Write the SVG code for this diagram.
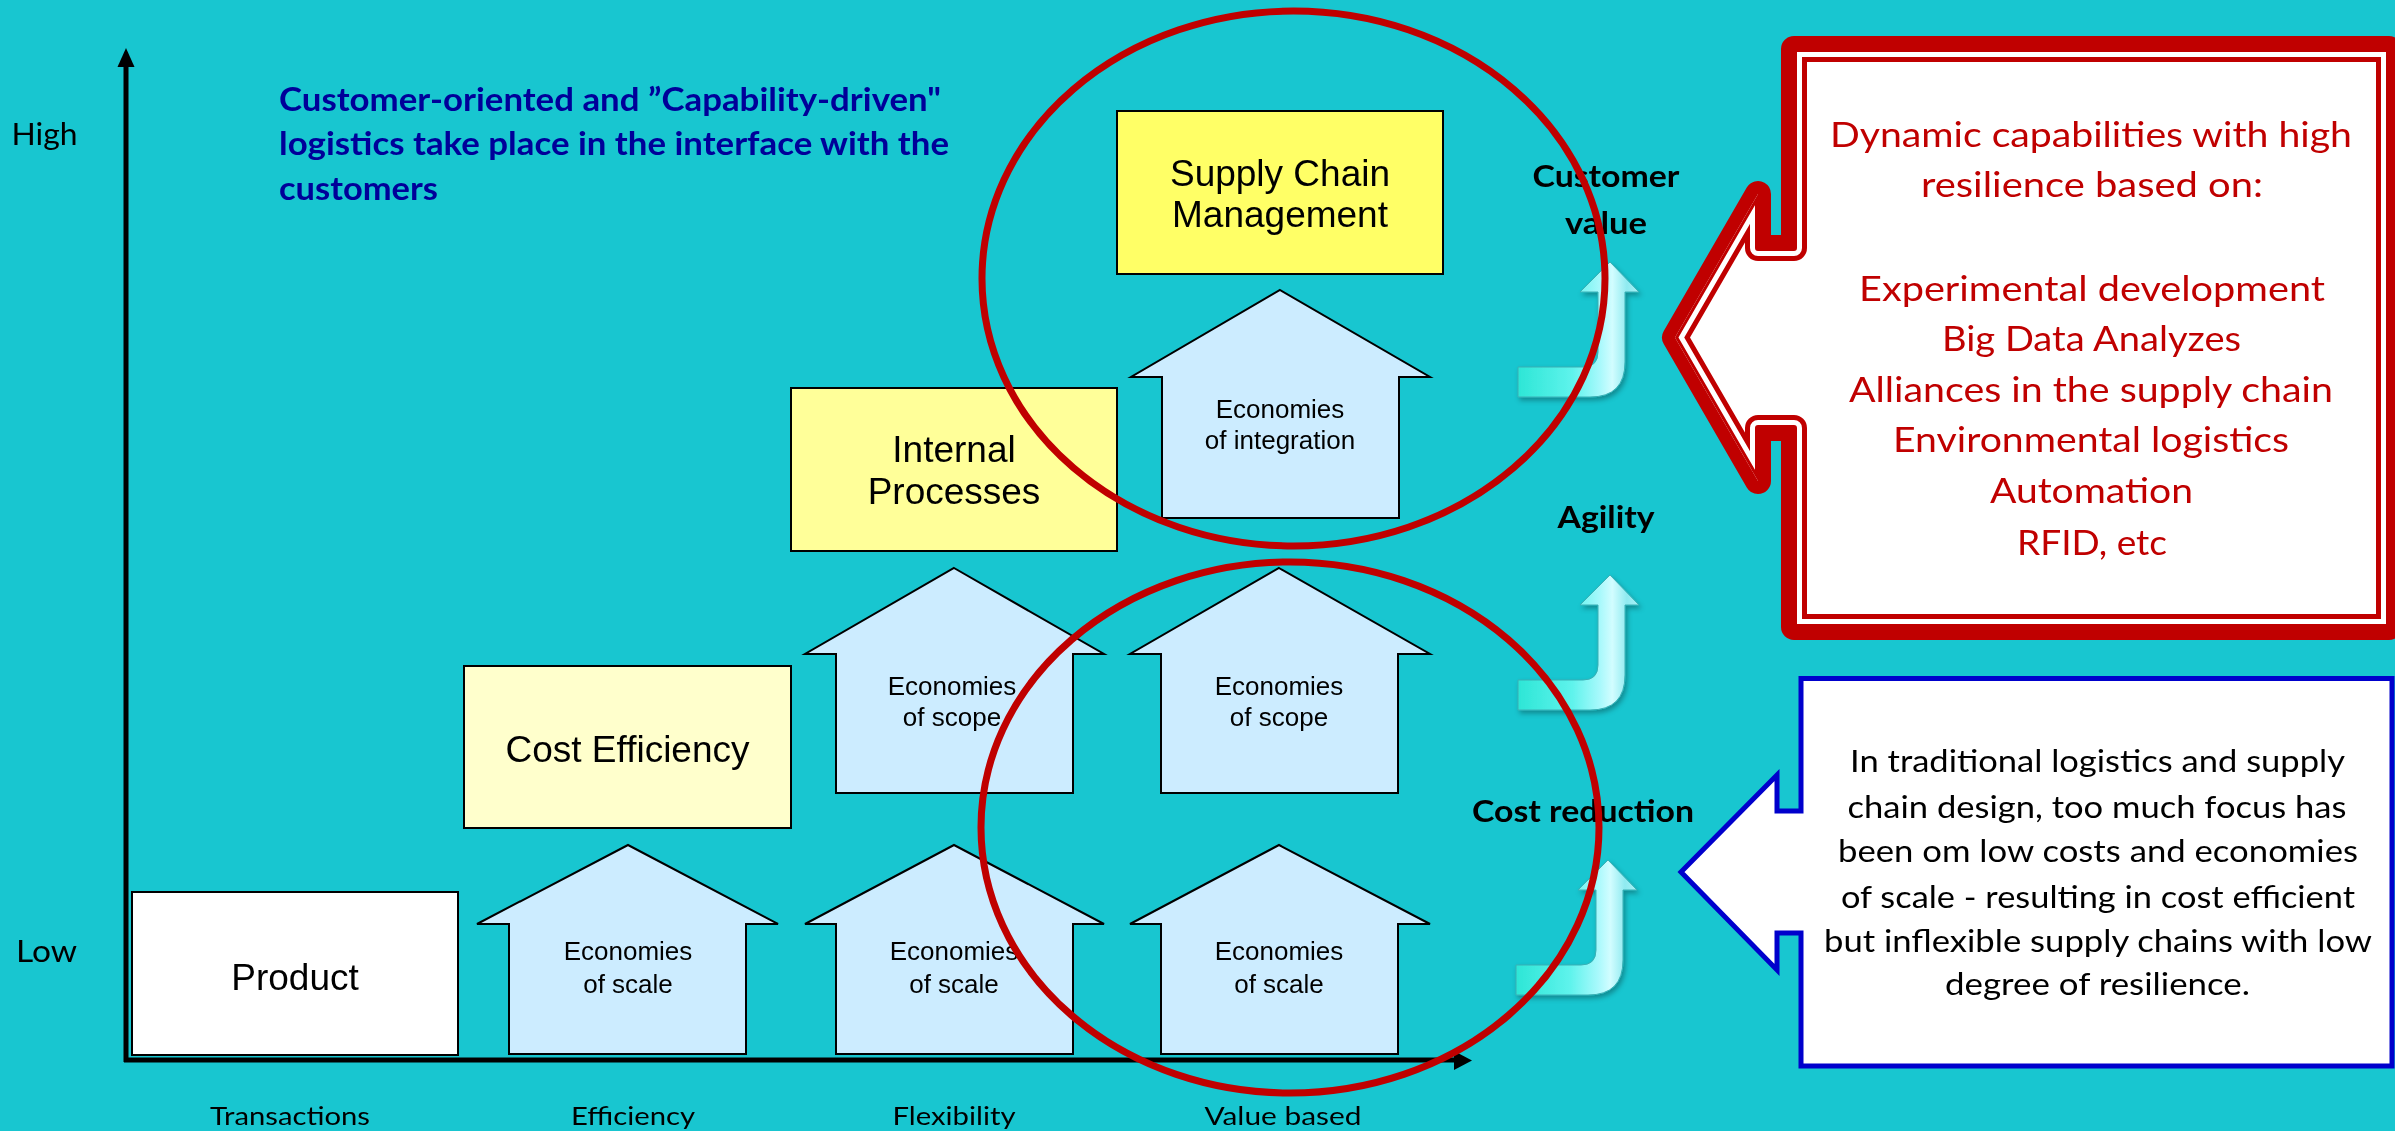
<svg xmlns="http://www.w3.org/2000/svg" xmlns:xlink="http://www.w3.org/1999/xlink" width="2395" height="1131" viewBox="0 0 2395 1131">
  <style>
    .cal { font-family: Lato, "Open Sans", sans-serif; }
    .ari { font-family: "Liberation Sans", Arial, sans-serif; fill: #000; }
    .box { stroke: #000; stroke-width: 2; }
    .econ { fill: #CCECFF; stroke: #000; stroke-width: 2; stroke-linejoin: miter; }
    .ring { fill: none; stroke: #C00000; stroke-width: 7; }
    .axis { stroke: #000; stroke-width: 5; fill: none; }
    .mid { text-anchor: middle; }
  </style>
  <defs>
    <linearGradient id="bendFill" x1="0" y1="0" x2="1" y2="0">
      <stop offset="0" stop-color="#2DE6D6"/>
      <stop offset="0.45" stop-color="#5FF3EC"/>
      <stop offset="0.68" stop-color="#A9F9FC"/>
      <stop offset="0.78" stop-color="#D2FDFF"/>
      <stop offset="0.9" stop-color="#8FEAF0"/>
      <stop offset="1" stop-color="#A6F2F6"/>
    </linearGradient>
    <filter id="soft" x="-20%" y="-20%" width="150%" height="150%">
      <feDropShadow dx="2" dy="3" stdDeviation="2.5" flood-color="#000" flood-opacity="0.3"/>
    </filter>
    <!-- bent up-arrow used for the three outcome markers -->
    <path id="bend" d="M1518,367 H1583 Q1598,367 1598,352 V292 H1580 L1610,262 L1639,292 H1625 V362 Q1625,397 1590,397 H1518 Z"/>
    <!-- left-pointing callout outline -->
    <path id="redShape" d="M1794,49 H2389 V627 H1794 V428 H1758 V481 L1675,337.5 L1758,194 V248 H1794 Z"/>
    <clipPath id="redInside"><use xlink:href="#redShape"/></clipPath>
  </defs>

  <rect x="0" y="0" width="2395" height="1131" fill="#18C6D0"/>

  <!-- axes and outcome arrows -->
  <g id="connectors">
    <line class="axis" x1="126" y1="64" x2="126" y2="1062"/>
    <polygon points="117.5,67 126,48 134.5,67" fill="#000"/>
    <line class="axis" x1="124" y1="1060" x2="1456" y2="1060"/>
    <polygon points="1454,1051 1472,1060.5 1454,1070" fill="#000"/>
    <g fill="url(#bendFill)" stroke="#3AAFB4" stroke-width="1" filter="url(#soft)">
      <use xlink:href="#bend"/>
      <use xlink:href="#bend" transform="translate(0,313)"/>
      <use xlink:href="#bend" transform="translate(-2,598)"/>
    </g>
  </g>

  <!-- axis labels -->
  <g id="axis-labels" class="cal" fill="#000">
    <text x="11.5" y="145" font-size="30" textLength="66" lengthAdjust="spacingAndGlyphs">High</text>
    <text x="16" y="962" font-size="30" textLength="61" lengthAdjust="spacingAndGlyphs">Low</text>
    <text class="mid" x="290" y="1125" font-size="25" textLength="160" lengthAdjust="spacingAndGlyphs">Transactions</text>
    <text class="mid" x="633" y="1125" font-size="25" textLength="124" lengthAdjust="spacingAndGlyphs">Efficiency</text>
    <text class="mid" x="954" y="1125" font-size="25" textLength="123" lengthAdjust="spacingAndGlyphs">Flexibility</text>
    <text class="mid" x="1283" y="1125" font-size="25" textLength="157" lengthAdjust="spacingAndGlyphs">Value based</text>
  </g>

  <g id="heading" class="cal" fill="#000099" font-weight="bold" font-size="32">
    <text x="279" y="111" textLength="662" lengthAdjust="spacingAndGlyphs">Customer-oriented and ”Capability-driven"</text>
    <text x="279" y="155" textLength="670" lengthAdjust="spacingAndGlyphs">logistics take place in the interface with the</text>
    <text x="279" y="200" textLength="159" lengthAdjust="spacingAndGlyphs">customers</text>
  </g>

  <!-- stage boxes -->
  <g id="product">
    <rect class="box" x="132" y="892" width="326" height="163" fill="#FFFFFF"/>
    <text class="ari mid" x="295" y="990" font-size="37">Product</text>
  </g>
  <g id="cost-efficiency">
    <rect class="box" x="464" y="666" width="327" height="162" fill="#FFFFCC"/>
    <text class="ari mid" x="627.5" y="762" font-size="37">Cost Efficiency</text>
  </g>
  <g id="internal-processes">
    <rect class="box" x="791" y="388" width="326" height="163" fill="#FFFF99"/>
    <text class="ari mid" x="954" y="462" font-size="37">Internal</text>
    <text class="ari mid" x="954" y="504" font-size="37">Processes</text>
  </g>
  <g id="supply-chain-management">
    <rect class="box" x="1117" y="111" width="326" height="163" fill="#FFFF66"/>
    <text class="ari mid" x="1280" y="186" font-size="37">Supply Chain</text>
    <text class="ari mid" x="1280" y="227" font-size="37">Management</text>
  </g>

  <!-- economies arrows -->
  <g id="scale-efficiency">
    <polygon class="econ" points="628,845 778,924 746,924 746,1054 509,1054 509,924 477,924"/>
    <text class="ari mid" x="628" y="960" font-size="26">Economies</text>
    <text class="ari mid" x="628" y="993" font-size="26">of scale</text>
  </g>
  <g id="scale-flexibility">
    <polygon class="econ" points="954,845 1104,924 1073,924 1073,1054 836,1054 836,924 805,924"/>
    <text class="ari mid" x="954" y="960" font-size="26">Economies</text>
    <text class="ari mid" x="954" y="993" font-size="26">of scale</text>
  </g>
  <g id="scale-value">
    <polygon class="econ" points="1279,845 1430,924 1398,924 1398,1054 1161,1054 1161,924 1130,924"/>
    <text class="ari mid" x="1279" y="960" font-size="26">Economies</text>
    <text class="ari mid" x="1279" y="993" font-size="26">of scale</text>
  </g>
  <g id="scope-flexibility">
    <polygon class="econ" points="954,568 1104,654 1073,654 1073,793 836,793 836,654 805,654"/>
    <text class="ari mid" x="952" y="695" font-size="26">Economies</text>
    <text class="ari mid" x="952" y="726" font-size="26">of scope</text>
  </g>
  <g id="scope-value">
    <polygon class="econ" points="1279,568 1430,654 1398,654 1398,793 1161,793 1161,654 1130,654"/>
    <text class="ari mid" x="1279" y="695" font-size="26">Economies</text>
    <text class="ari mid" x="1279" y="726" font-size="26">of scope</text>
  </g>
  <g id="integration">
    <polygon class="econ" points="1280,290 1430,377 1399,377 1399,518 1162,518 1162,377 1131,377"/>
    <text class="ari mid" x="1280" y="418" font-size="26">Economies</text>
    <text class="ari mid" x="1280" y="449" font-size="26">of integration</text>
  </g>

  <!-- outcome labels -->
  <g id="outcomes" class="cal" fill="#000" font-weight="bold" font-size="30">
    <text class="mid" x="1606" y="187" textLength="147" lengthAdjust="spacingAndGlyphs">Customer</text>
    <text class="mid" x="1606" y="234" textLength="82" lengthAdjust="spacingAndGlyphs">value</text>
    <text class="mid" x="1606" y="528" textLength="97" lengthAdjust="spacingAndGlyphs">Agility</text>
    <text class="mid" x="1583" y="822" textLength="222" lengthAdjust="spacingAndGlyphs">Cost reduction</text>
  </g>

  <!-- dynamic capabilities callout, double red outline -->
  <g id="dynamic-capabilities">
    <use xlink:href="#redShape" fill="#FFFFFF" stroke="#C00000" stroke-width="26" stroke-linejoin="round"/>
    <use xlink:href="#redShape" fill="none" stroke="#FFFFFF" stroke-width="16" stroke-linejoin="round" clip-path="url(#redInside)"/>
    <use xlink:href="#redShape" fill="none" stroke="#C00000" stroke-width="6" stroke-linejoin="round" clip-path="url(#redInside)"/>
    <g class="cal" fill="#C00000" font-size="35" text-anchor="middle">
      <text x="2091" y="147" textLength="522" lengthAdjust="spacingAndGlyphs">Dynamic capabilities with high</text>
      <text x="2092" y="197" textLength="342" lengthAdjust="spacingAndGlyphs">resilience based on:</text>
      <text x="2092" y="301" textLength="466" lengthAdjust="spacingAndGlyphs">Experimental development</text>
      <text x="2091.5" y="351" textLength="299" lengthAdjust="spacingAndGlyphs">Big Data Analyzes</text>
      <text x="2091" y="402" textLength="484" lengthAdjust="spacingAndGlyphs">Alliances in the supply chain</text>
      <text x="2091" y="452" textLength="396" lengthAdjust="spacingAndGlyphs">Environmental logistics</text>
      <text x="2091.5" y="503" textLength="203" lengthAdjust="spacingAndGlyphs">Automation</text>
      <text x="2092" y="555" textLength="150" lengthAdjust="spacingAndGlyphs">RFID, etc</text>
    </g>
  </g>

  <!-- traditional logistics callout -->
  <g id="traditional-logistics">
    <path d="M1801,678.5 H2392 V1066 H1801 V933 H1777 V970 L1681,872 L1777,775 V811 H1801 Z" fill="#FFFFFF" stroke="#0000CC" stroke-width="5"/>
    <g class="cal" fill="#000" font-size="30" text-anchor="middle">
      <text x="2097.5" y="772" textLength="495" lengthAdjust="spacingAndGlyphs">In traditional logistics and supply</text>
      <text x="2097" y="818" textLength="499" lengthAdjust="spacingAndGlyphs">chain design, too much focus has</text>
      <text x="2098" y="862" textLength="520" lengthAdjust="spacingAndGlyphs">been om low costs and economies</text>
      <text x="2098" y="908" textLength="514" lengthAdjust="spacingAndGlyphs">of scale - resulting in cost efficient</text>
      <text x="2098" y="952" textLength="548" lengthAdjust="spacingAndGlyphs">but inflexible supply chains with low</text>
      <text x="2097.5" y="995" textLength="305" lengthAdjust="spacingAndGlyphs">degree of resilience.</text>
    </g>
  </g>

  <!-- highlight rings -->
  <g id="highlights">
    <ellipse class="ring" cx="1293.5" cy="278.5" rx="311.5" ry="267.5"/>
    <ellipse class="ring" cx="1290" cy="827.5" rx="309" ry="265.5"/>
  </g>
</svg>
